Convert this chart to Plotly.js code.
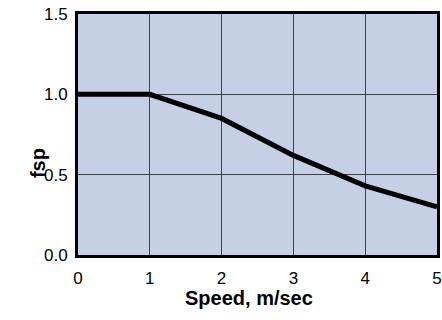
<!DOCTYPE html>
<html>
<head>
<meta charset="utf-8">
<script src="https://cdn.plot.ly/plotly-3.0.1.min.js"></script>
<style>html,body{margin:0;padding:0;background:#fff;}#chart{width:442px;height:320px;}</style>
</head>
<body>
<div id="chart"></div>
<script>
const speed = [0, 1, 2, 3, 4, 5];
const fsp = [1.0, 1.0, 0.85, 0.62, 0.43, 0.30];
const xTicks = [0, 1, 2, 3, 4, 5];
const yTicks = [0.0, 0.5, 1.0, 1.5];
const yTickText = ['0.0', '0.5', '1.0', '1.5'];
const xTitle = 'Speed, m/sec';
const yTitle = 'fsp';

const FONT = 'Liberation Sans, Arial, sans-serif';
const trace = {
  x: speed, y: fsp, type: 'scatter', mode: 'lines',
  line: {color: '#000', width: 5}, hoverinfo: 'none'
};
const layout = {
  width: 442, height: 320,
  margin: {l: 78, r: 5, t: 14, b: 65},
  paper_bgcolor: '#fff', plot_bgcolor: 'rgb(197,207,230)',
  showlegend: false,
  font: {family: FONT, color: '#000', size: 17},
  xaxis: {
    range: [0, 5], tickvals: xTicks, ticks: '', ticklabelstandoff: 6,
    showgrid: true, gridcolor: '#3a3f4a', gridwidth: 1,
    showline: true, linecolor: '#000', linewidth: 3, mirror: true,
    zeroline: false, fixedrange: true
  },
  yaxis: {
    range: [0, 1.5], tickvals: yTicks, ticktext: yTickText, ticks: '', ticklabelstandoff: 4,
    showgrid: true, gridcolor: '#3a3f4a', gridwidth: 1,
    showline: true, linecolor: '#000', linewidth: 3, mirror: true,
    zeroline: false, fixedrange: true
  },
  annotations: [
    {text: xTitle, xref: 'paper', yref: 'paper', x: 0.476, y: -0.18,
     xanchor: 'center', yanchor: 'middle', showarrow: false,
     font: {family: FONT, size: 20, weight: 'bold', color: '#000'}},
    {text: yTitle, xref: 'paper', yref: 'paper', x: -0.111, y: 0.382,
     xanchor: 'center', yanchor: 'middle', showarrow: false, textangle: -90,
     font: {family: FONT, size: 20, weight: 'bold', color: '#000'}}
  ]
};
Plotly.newPlot('chart', [trace], layout, {staticPlot: true, displayModeBar: false});
</script>
</body>
</html>
